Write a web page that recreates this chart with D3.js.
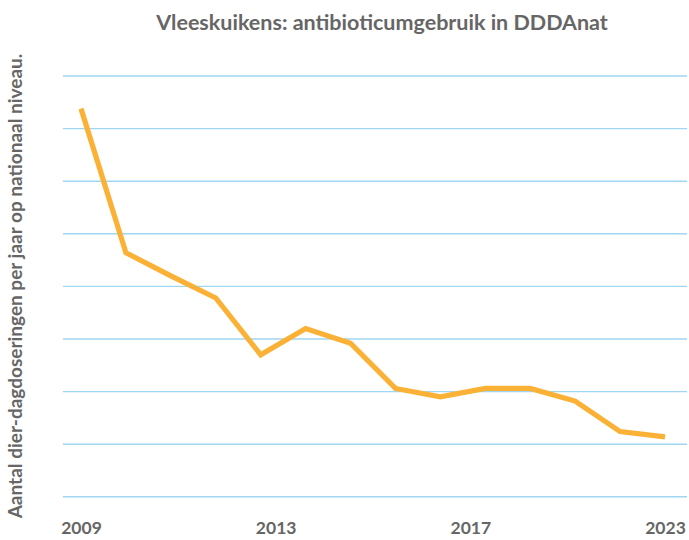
<!DOCTYPE html>
<html>
<head>
<meta charset="utf-8">
<script src="https://cdn.jsdelivr.net/npm/d3@7"></script>
<style>
  html, body { margin: 0; padding: 0; background: #fff; }
  svg { display: block; }
  text { font-family: Lato, "Open Sans", sans-serif; font-weight: 700; fill: #666; }
</style>
</head>
<body>
<svg id="chart" width="689" height="540"></svg>
<script>
const categories = ["2009","2010","2011","2012","2013","2014","2015","2016","2017","2018","2019","2020","2021","2022"];
const values = [36.9, 23.2, 21.0, 18.9, 13.5, 16.0, 14.6, 10.3, 9.5, 10.3, 10.3, 9.1, 6.2, 5.7];
const tickLabels = ["2009","2013","2017","2023"];
const gridValues = [0, 5, 10, 15, 20, 25, 30, 35, 40];
const title = "Vleeskuikens: antibioticumgebruik in DDDAnat";
const yTitle = "Aantal dier-dagdoseringen per jaar op nationaal niveau.";

const svg = d3.select("#chart");
const plot = { left: 81, right: 665, top: 76, bottom: 496.8 };

const x = d3.scalePoint().domain(categories).range([plot.left, plot.right]);
const xt = d3.scalePoint().domain(tickLabels).range([plot.left, plot.right]);
const y = d3.scaleLinear().domain([0, 40]).range([plot.bottom, plot.top]);

// gridlines
svg.append("g")
  .selectAll("line")
  .data(gridValues)
  .join("line")
  .attr("x1", 63).attr("x2", 687)
  .attr("y1", d => y(d)).attr("y2", d => y(d))
  .attr("stroke", "#9fd6f2")
  .attr("stroke-width", 1.4);

// line
const line = d3.line()
  .x((d, i) => x(categories[i]))
  .y(d => y(d));
svg.append("path")
  .datum(values)
  .attr("d", line)
  .attr("fill", "none")
  .attr("stroke", "#fbb135")
  .attr("stroke-width", 5.2)
  .attr("stroke-linejoin", "miter");

// x axis labels
const xAxis = d3.axisBottom(xt).tickSize(0).tickPadding(0);
const gx = svg.append("g").attr("transform", "translate(0,522)").call(xAxis);
gx.select(".domain").remove();
gx.selectAll("text")
  .attr("dy", "0.71em")
  .style("font-family", "Lato, sans-serif")
  .style("font-weight", "700")
  .style("font-size", "17.5px")
  .attr("fill", "#666");

// title
svg.append("text")
  .attr("x", 382).attr("y", 30)
  .attr("text-anchor", "middle")
  .style("font-size", "21.5px")
  .text(title);

// y title
svg.append("text")
  .attr("transform", "translate(22,286) rotate(-90)")
  .attr("text-anchor", "middle")
  .style("font-size", "19px")
  .text(yTitle);
</script>
</body>
</html>
